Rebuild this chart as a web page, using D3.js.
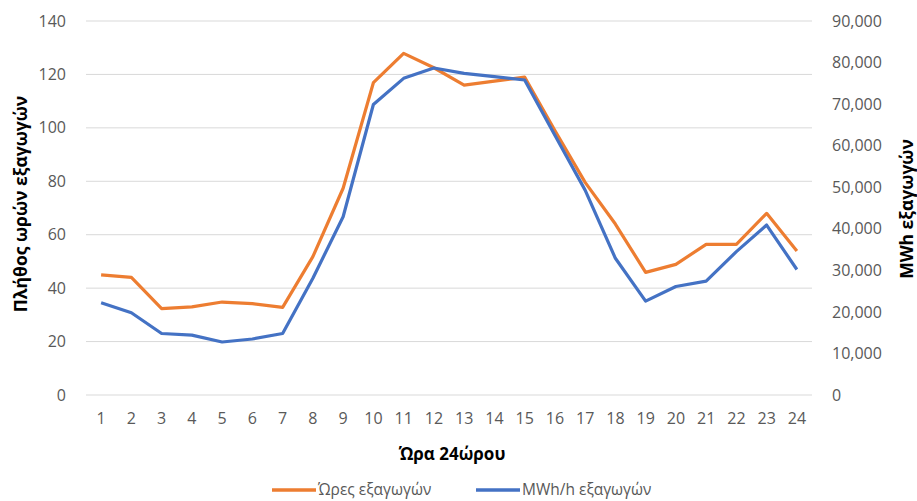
<!DOCTYPE html>
<html><head><meta charset="utf-8">
<script src="https://cdn.jsdelivr.net/npm/d3@7"></script>
<style>
body{margin:0;background:#fff;}
text{font-family:"Open Sans","Noto Sans",sans-serif;}
</style></head>
<body><svg id="c" width="917" height="501"></svg>
<script>
const hours = d3.range(1,25).map(String);
const hoursExport = [45,44,32.3,33,34.8,34.2,32.8,51.8,77.4,116.9,127.9,122.5,116,117.5,119,99,79.6,64,45.9,48.9,56.4,56.4,68,53.9];
const mwhExport = [22200,19800,14800,14400,12750,13470,14800,28100,42900,69900,76200,78700,77400,76600,75800,62500,49300,32900,22600,26100,27400,34500,40900,30200];
const leftTicks = [0,20,40,60,80,100,120,140];
const rightTicks = [0,10000,20000,30000,40000,50000,60000,70000,80000,90000];
const seriesNames = ["Ώρες εξαγωγών","MWh/h εξαγωγών"];
const colors = ["#ED7D31","#4472C4"];

const svg = d3.select("#c");
const L=86,R=812,T=21,B=395;
const x = d3.scaleBand().domain(hours).range([L,R]);
const yL = d3.scaleLinear().domain([0,140]).range([B,T]);
const yR = d3.scaleLinear().domain([0,90000]).range([B,T]);

// grid
svg.append("g").selectAll("line").data(leftTicks).join("line")
  .attr("x1",L).attr("x2",R).attr("y1",d=>yL(d)).attr("y2",d=>yL(d))
  .attr("stroke","#d9d9d9").attr("stroke-width",1);

const tickColor="#595959";
// left axis
const gl = svg.append("g").attr("transform",`translate(${L},0)`)
  .call(d3.axisLeft(yL).tickValues(leftTicks).tickSize(0).tickPadding(20));
gl.select(".domain").remove();
gl.selectAll("text").attr("fill",tickColor).style("font-size","16px");
// right axis
const gr = svg.append("g").attr("transform",`translate(${R},0)`)
  .call(d3.axisRight(yR).tickValues(rightTicks).tickFormat(d3.format(",")).tickSize(0).tickPadding(20));
gr.select(".domain").remove();
gr.selectAll("text").attr("fill",tickColor).style("font-size","16px");
// bottom axis
const gb = svg.append("g").attr("transform",`translate(0,${B})`)
  .call(d3.axisBottom(x).tickSize(0).tickPadding(18));
gb.select(".domain").remove();
gb.selectAll("text").attr("fill",tickColor).style("font-size","16px");

// lines
const lineL = d3.line().x((d,i)=>x(hours[i])+x.bandwidth()/2).y(d=>yL(d));
const lineR = d3.line().x((d,i)=>x(hours[i])+x.bandwidth()/2).y(d=>yR(d));
svg.append("path").datum(hoursExport).attr("d",lineL).attr("fill","none")
  .attr("stroke",colors[0]).attr("stroke-width",3.2).attr("stroke-linejoin","round");
svg.append("path").datum(mwhExport).attr("d",lineR).attr("fill","none")
  .attr("stroke",colors[1]).attr("stroke-width",3.2).attr("stroke-linejoin","round");

// titles
svg.append("text").attr("x",452).attr("y",460).attr("text-anchor","middle")
  .style("font-size","17px").style("font-weight","bold").attr("fill","#000").text("Ώρα 24ώρου");
svg.append("text").attr("transform","translate(27,204) rotate(-90)").attr("text-anchor","middle")
  .style("font-size","17.5px").style("font-weight","bold").attr("fill","#000").text("Πλήθος ωρών εξαγωγών");
svg.append("text").attr("transform","translate(913,209) rotate(-90)").attr("text-anchor","middle")
  .style("font-size","17.5px").style("font-weight","bold").attr("fill","#000").text("MWh εξαγωγών");

// legend
const legX=[272,476];
const lg = svg.append("g");
seriesNames.forEach((n,i)=>{
  lg.append("line").attr("x1",legX[i]).attr("x2",legX[i]+44).attr("y1",490).attr("y2",490)
    .attr("stroke",colors[i]).attr("stroke-width",3.5);
  lg.append("text").attr("x",legX[i]+46).attr("y",494.5).attr("fill",tickColor)
    .style("font-size","15.5px").text(n);
});
</script></body></html>
